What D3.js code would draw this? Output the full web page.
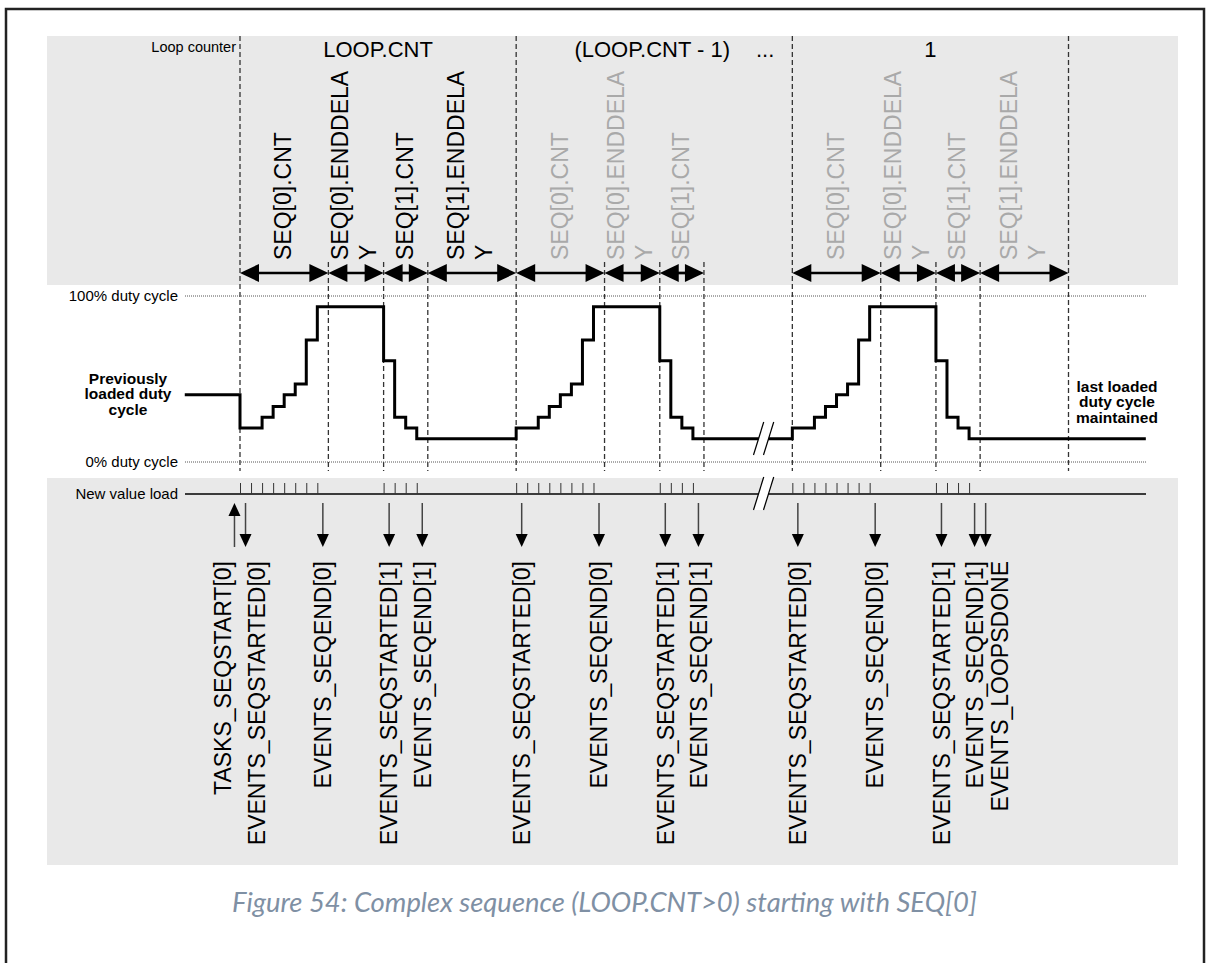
<!DOCTYPE html>
<html>
<head>
<meta charset="utf-8">
<script src="https://cdn.jsdelivr.net/npm/d3@7"></script>
<style>
  html, body { margin: 0; padding: 0; background: #fff; }
  svg { display: block; }
  text { font-family: "Liberation Sans", Arial, sans-serif; }
</style>
</head>
<body>
<script>
// ---------------- DATA (time in new-value-load periods, duty in %) ----------------
const loopStarts = [0, 25, 50];
const loopEnd = 75;
const loopCounterLabels = ["LOOP.CNT", "(LOOP.CNT - 1)", "1"];
const seq0Values = [20.5, 20.5, 27, 33.5, 40.5, 47, 73.5, 93.5];
const seq0EndDelay = 5;
const seq1Values = [61, 27, 20.5, 14];
const seq1EndDelay = 8;
const prevDuty = 40.5;
const waveStart = -5;
const waveEnd = 82;
const intervalLabels = [
  ["SEQ[0].CNT"],
  ["SEQ[0].ENDDELA", "Y"],
  ["SEQ[1].CNT"],
  ["SEQ[1].ENDDELA", "Y"]
];
const intervalsShownPerLoop = [4, 3, 4];
const eventNames = [
  "TASKS_SEQSTART[0]", "EVENTS_SEQSTARTED[0]", "EVENTS_SEQEND[0]", "EVENTS_SEQSTARTED[1]", "EVENTS_SEQEND[1]",
  "EVENTS_SEQSTARTED[0]", "EVENTS_SEQEND[0]", "EVENTS_SEQSTARTED[1]", "EVENTS_SEQEND[1]",
  "EVENTS_SEQSTARTED[0]", "EVENTS_SEQEND[0]", "EVENTS_SEQSTARTED[1]", "EVENTS_SEQEND[1]", "EVENTS_LOOPSDONE"
];
const eventTimes = [-0.5, 0.5, 7.5, 13.5, 16.5, 25.5, 32.5, 38.5, 41.5, 50.5, 57.5, 63.5, 66.5, 67.5];
const eventIsTask = [true, false, false, false, false, false, false, false, false, false, false, false, false, false];
const caption = "Figure 54: Complex sequence (LOOP.CNT>0) starting with SEQ[0]";

// ---------------- LAYOUT ----------------
const W = 1210, H = 963;
const svg = d3.select("body").append("svg").attr("width", W).attr("height", H);

const x = d3.scaleLinear().domain([0, loopEnd]).range([240, 1068.5]);
const y = d3.scaleLinear().domain([0, 100]).range([462, 296]);

const lineLeft = 185, lineRight = 1146;
const arrowY = 273;
const loadY = 494;
const breakT = 47.4;
const labelShift = {0: -12, 1: 11, 13: 14};

// frame
svg.append("rect").attr("x", 6).attr("y", 9).attr("width", 1198).attr("height", 1000)
  .attr("fill", "none").attr("stroke", "#222").attr("stroke-width", 2.5);

// bands
svg.append("rect").attr("x", 47).attr("y", 36).attr("width", 1131).attr("height", 249).attr("fill", "#e9e9e9");
svg.append("rect").attr("x", 47).attr("y", 478).attr("width", 1131).attr("height", 387).attr("fill", "#e9e9e9");

// derived times
const ivStarts = [0, seq0Values.length, seq0Values.length + seq0EndDelay,
  seq0Values.length + seq0EndDelay + seq1Values.length];
const ivEnds = [ivStarts[1], ivStarts[2], ivStarts[3], ivStarts[3] + seq1EndDelay];

// dashed lines
const dashG = svg.append("g").attr("stroke", "#333").attr("stroke-width", 1.3).attr("stroke-dasharray", "5,3");
const dashTimes = [];
loopStarts.forEach(t0 => ivStarts.forEach((s, i) => dashTimes.push({t: t0 + s, full: i === 0})));
dashTimes.push({t: loopEnd, full: true});
dashG.selectAll("line").data(dashTimes).join("line")
  .attr("x1", d => x(d.t)).attr("x2", d => x(d.t))
  .attr("y1", d => d.full ? 36 : 262).attr("y2", 471);

// dotted duty lines
svg.append("g").selectAll("line").data([100, 0]).join("line")
  .attr("x1", lineLeft).attr("x2", lineRight)
  .attr("y1", d => y(d)).attr("y2", d => y(d))
  .attr("stroke", "#555").attr("stroke-width", 1).attr("stroke-dasharray", "1,1");

// labels on left
svg.append("text").attr("x", 236).attr("y", 52).attr("text-anchor", "end").attr("font-size", 14.5).text("Loop counter");
svg.append("text").attr("x", 178).attr("y", y(100) + 5).attr("text-anchor", "end").attr("font-size", 15).text("100% duty cycle");
svg.append("text").attr("x", 178).attr("y", y(0) + 5).attr("text-anchor", "end").attr("font-size", 15).text("0% duty cycle");
svg.append("text").attr("x", 178).attr("y", loadY + 5).attr("text-anchor", "end").attr("font-size", 15).text("New value load");

// loop counter labels
loopStarts.forEach((t0, i) => {
  const t1 = i + 1 < loopStarts.length ? loopStarts[i + 1] : loopEnd;
  svg.append("text").attr("x", (x(t0) + x(t1)) / 2 - (i === 1 ? 2 : 0)).attr("y", 57)
    .attr("text-anchor", "middle").attr("font-size", 22).text(loopCounterLabels[i]);
});
svg.append("text").attr("x", 756).attr("y", 57).attr("font-size", 22).text("...");

// interval arrows and labels
function head(g, tipX, dir) {
  const L = 19, h = 9;
  g.append("path").attr("d", `M${tipX},${arrowY} L${tipX + dir * L},${arrowY - h} L${tipX + dir * L},${arrowY + h} Z`)
    .attr("fill", "#000");
}
loopStarts.forEach((t0, li) => {
  const g = svg.append("g");
  for (let k = 0; k < intervalsShownPerLoop[li]; k++) {
    const xa = x(t0 + ivStarts[k]), xb = x(t0 + ivEnds[k]);
    g.append("line").attr("x1", xa + 8).attr("x2", xb - 8).attr("y1", arrowY).attr("y2", arrowY)
      .attr("stroke", "#000").attr("stroke-width", 2.7);
    head(g, xa, 1);
    head(g, xb, -1);
    const lines = intervalLabels[k];
    const cx = (xa + xb) / 2;
    const color = li === 0 ? "#000" : "#a9a9a9";
    lines.forEach((s, j) => {
      const lx = lines.length === 1 ? cx - 1 : cx - 16 + j * 28;
      g.append("text").attr("transform", `translate(${lx},260) rotate(-90)`)
        .attr("dy", "0.36em").attr("font-size", 23).attr("fill", color).text(s);
    });
  }
});

// waveform
const wave = [[waveStart, prevDuty]];
loopStarts.forEach(t0 => {
  seq0Values.forEach((v, i) => wave.push([t0 + i, v]));
  seq1Values.forEach((v, i) => wave.push([t0 + ivStarts[2] + i, v]));
});
wave.push([waveEnd, seq1Values[seq1Values.length - 1]]);
svg.append("path").datum(wave)
  .attr("d", d3.line().x(d => x(d[0])).y(d => y(d[1])).curve(d3.curveStepAfter))
  .attr("fill", "none").attr("stroke", "#000").attr("stroke-width", 3).attr("stroke-linejoin", "miter");

// bold side notes
const noteL = ["Previously", "loaded duty", "cycle"];
noteL.forEach((s, i) => svg.append("text").attr("x", 128).attr("y", 384 + i * 15.3)
  .attr("text-anchor", "middle").attr("font-size", 15.5).attr("font-weight", "bold").text(s));
const noteR = ["last loaded", "duty cycle", "maintained"];
noteR.forEach((s, i) => svg.append("text").attr("x", 1117).attr("y", 392 + i * 15.4)
  .attr("text-anchor", "middle").attr("font-size", 15.5).attr("font-weight", "bold").text(s));

// new value load line + ticks (axis)
svg.append("line").attr("x1", lineLeft).attr("x2", lineRight).attr("y1", loadY).attr("y2", loadY)
  .attr("stroke", "#000").attr("stroke-width", 1.3);
const loadTimes = [];
loopStarts.forEach(t0 => {
  seq0Values.forEach((v, i) => loadTimes.push(t0 + i));
  seq1Values.forEach((v, i) => loadTimes.push(t0 + ivStarts[2] + i));
});
const ax = svg.append("g").attr("transform", `translate(0,${loadY})`)
  .call(d3.axisTop(x).tickValues(loadTimes).tickSize(11).tickSizeOuter(0).tickFormat(""));
ax.select(".domain").remove();
ax.selectAll(".tick line").attr("stroke", "#333").attr("stroke-width", 1);

// break marks
function breakMark(xc, y0, y1, gap) {
  const dx = (y0 - y1) * 0.31;
  const g = svg.append("g");
  const xb = xc - dx / 2;
  g.append("path").attr("d", `M${xb - gap / 2},${y0} L${xb + dx - gap / 2},${y1} L${xb + dx + gap / 2},${y1} L${xb + gap / 2},${y0} Z`)
    .attr("fill", "#fff");
  [-gap / 2, gap / 2].forEach(o => g.append("line")
    .attr("x1", xb + o).attr("y1", y0).attr("x2", xb + dx + o).attr("y2", y1)
    .attr("stroke", "#000").attr("stroke-width", 1.2));
}
breakMark(x(breakT), 455, 422, 10);
breakMark(x(breakT), 510, 477, 10);

// event arrows
const evG = svg.append("g");
eventNames.forEach((name, i) => {
  const ex = x(eventTimes[i]);
  evG.append("line").attr("x1", ex).attr("x2", ex)
    .attr("y1", eventIsTask[i] ? 512 : 503).attr("y2", eventIsTask[i] ? 547 : 538)
    .attr("stroke", "#444").attr("stroke-width", 1.5);
  if (eventIsTask[i]) {
    evG.append("path").attr("d", `M${ex},503 L${ex - 6},516 L${ex + 6},516 Z`).attr("fill", "#000");
  } else {
    evG.append("path").attr("d", `M${ex},547 L${ex - 6},534 L${ex + 6},534 Z`).attr("fill", "#000");
  }
  const lx = ex + (labelShift[i] || 0);
  evG.append("text").attr("transform", `translate(${lx},561) rotate(-90)`)
    .attr("text-anchor", "end").attr("dy", "0.36em").attr("font-size", 23).attr("fill", "#000").text(name);
});

// caption
const cap = svg.append("text").attr("x", 604.5).attr("y", 912).attr("text-anchor", "middle")
  .attr("font-style", "italic").attr("fill", "#7f90a4")
  .style("font-family", "Lato, 'Open Sans', sans-serif").attr("font-size", 22).text(caption);
const len = cap.node().getComputedTextLength();
cap.attr("font-size", 22 * 745 / len);
</script>
</body>
</html>
